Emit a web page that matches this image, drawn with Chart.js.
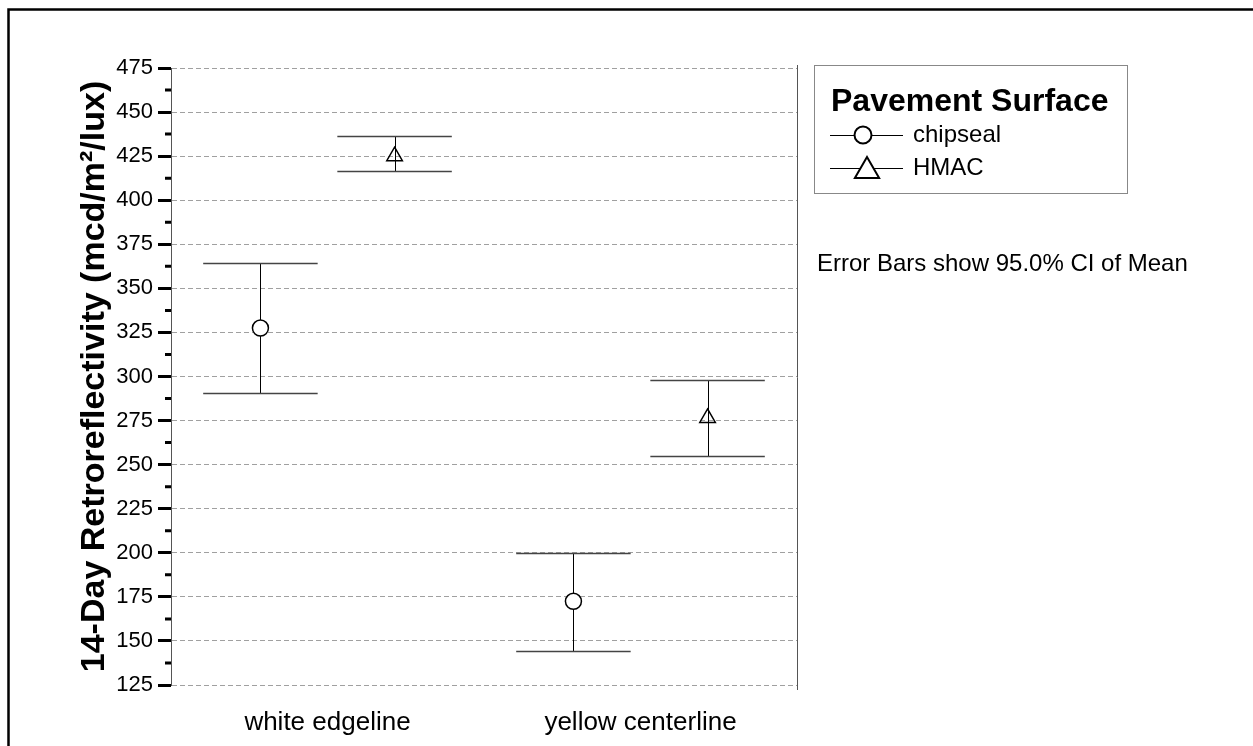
<!DOCTYPE html>
<html>
<head>
<meta charset="utf-8">
<script src="https://cdn.jsdelivr.net/npm/chart.js@4.4.1/dist/chart.umd.min.js"></script>
<style>
    body { margin: 0; background: #fff; }
    canvas { display: block; }
</style>
</head>
<body>
<canvas id="chart" width="1253" height="746"></canvas>
<script>
const groups = ['white edgeline', 'yellow centerline'];
const surfaces = ['chipseal', 'HMAC'];
const chipsealMean = [327.5, 172.5];
const chipsealLow = [290.6, 144.2];
const chipsealHigh = [364.6, 199.6];
const hmacMean = [425, 276.5];
const hmacLow = [416.3, 255.1];
const hmacHigh = [436.2, 298.2];
const yTicksMin = 125;
const yTicksMax = 475;
const yStep = 25;
const noteText = 'Error Bars show 95.0% CI of Mean';

const fontFamily = "'Liberation Sans', Arial, sans-serif";
const groupCenters = [1.75, 5.25];
const dodge = 0.75;
const capHalf = 0.64;

const surfaceStyles = [
    { pointStyle: 'circle', radius: 8, legendRadius: 8.5, fill: '#fff' },
    { pointStyle: 'triangle', radius: 9, legendRadius: 14, fill: 'rgba(0,0,0,0)' },
];
const means = [chipsealMean, hmacMean];
const lows = [chipsealLow, hmacLow];
const highs = [chipsealHigh, hmacHigh];

function xFor(surfaceIndex, groupIndex) {
    return groupCenters[groupIndex] + (surfaceIndex === 0 ? -dodge : dodge);
}

const datasets = surfaces.map((name, s) => ({
    label: name,
    data: groups.map((g, i) => ({ x: xFor(s, i), y: means[s][i] })),
    pointStyle: surfaceStyles[s].pointStyle,
    pointRadius: surfaceStyles[s].radius,
    pointHoverRadius: surfaceStyles[s].radius,
    pointBackgroundColor: surfaceStyles[s].fill,
    pointBorderColor: '#000',
    pointBorderWidth: 1.5,
    showLine: false,
}));

const errorBarsPlugin = {
    id: 'errorBars',
    beforeDatasetsDraw(chart) {
        const { ctx, scales: { x, y } } = chart;
        ctx.save();
        surfaces.forEach((name, s) => {
            groups.forEach((g, i) => {
                const cx = Math.round(x.getPixelForValue(xFor(s, i))) + 0.5;
                const yHigh = Math.round(y.getPixelForValue(highs[s][i])) + 0.5;
                const yLow = Math.round(y.getPixelForValue(lows[s][i])) + 0.5;
                const left = x.getPixelForValue(xFor(s, i) - capHalf);
                const right = x.getPixelForValue(xFor(s, i) + capHalf);
                ctx.strokeStyle = '#000';
                ctx.lineWidth = 1;
                ctx.beginPath();
                ctx.moveTo(cx, yHigh);
                ctx.lineTo(cx, yLow);
                ctx.stroke();
                ctx.strokeStyle = '#444';
                ctx.lineWidth = 1.5;
                ctx.beginPath();
                ctx.moveTo(left, yHigh);
                ctx.lineTo(right, yHigh);
                ctx.moveTo(left, yLow);
                ctx.lineTo(right, yLow);
                ctx.stroke();
            });
        });
        ctx.restore();
    }
};

const decorPlugin = {
    id: 'decor',
    afterDraw(chart) {
        const { ctx, chartArea, scales: { y } } = chart;
        ctx.save();

        // minor ticks between the labelled ones
        ctx.strokeStyle = '#000';
        ctx.lineWidth = 3;
        ctx.beginPath();
        for (let i = 0; i < y.ticks.length - 1; i++) {
            const mid = (y.ticks[i].value + y.ticks[i + 1].value) / 2;
            const py = y.getPixelForValue(mid);
            ctx.moveTo(chartArea.left - 6, py);
            ctx.lineTo(chartArea.left, py);
        }
        ctx.stroke();

        // right edge of the plot
        ctx.strokeStyle = '#555';
        ctx.lineWidth = 1;
        ctx.beginPath();
        ctx.moveTo(Math.round(chartArea.right) + 0.5, chartArea.top - 3);
        ctx.lineTo(Math.round(chartArea.right) + 0.5, chartArea.bottom + 5);
        ctx.stroke();

        // outer frame
        ctx.strokeStyle = '#000';
        ctx.lineWidth = 2.5;
        ctx.strokeRect(8.5, 9.5, 1260, 760);

        // legend box
        const lx = 814, ly = 65, lw = 313, lh = 128;
        ctx.strokeStyle = '#888';
        ctx.lineWidth = 1;
        ctx.strokeRect(lx + 0.5, ly + 0.5, lw, lh);
        ctx.fillStyle = '#000';
        ctx.font = `bold 32px ${fontFamily}`;
        ctx.textBaseline = 'alphabetic';
        ctx.textAlign = 'left';
        ctx.fillText('Pavement Surface', 831, 111);

        ctx.font = `24px ${fontFamily}`;
        ctx.textBaseline = 'middle';
        surfaces.forEach((name, s) => {
            const rowY = s === 0 ? 135 : 168;
            ctx.strokeStyle = '#000';
            ctx.lineWidth = 1;
            ctx.beginPath();
            ctx.moveTo(830, rowY + 0.5);
            ctx.lineTo(903, rowY + 0.5);
            ctx.stroke();
            ctx.fillStyle = '#fff';
            ctx.lineWidth = 2;
            const markerY = s === 0 ? rowY : rowY + 3;
            Chart.helpers.drawPoint(ctx, {
                pointStyle: surfaceStyles[s].pointStyle,
                radius: surfaceStyles[s].legendRadius,
                rotation: 0,
                borderWidth: 2,
            }, s === 0 ? 863 : 867, markerY);
            ctx.fillStyle = '#000';
            ctx.fillText(name, 913, rowY);
        });

        ctx.font = `24px ${fontFamily}`;
        ctx.fillText(noteText, 817, 264);
        ctx.restore();
    }
};

new Chart(document.getElementById('chart').getContext('2d'), {
    type: 'scatter',
    data: { datasets },
    plugins: [errorBarsPlugin, decorPlugin],
    options: {
        responsive: false,
        animation: false,
        events: [],
        layout: { padding: { left: 8, top: 68, right: 456, bottom: 0 } },
        plugins: {
            legend: { display: false },
            tooltip: { enabled: false },
        },
        scales: {
            x: {
                type: 'linear',
                min: 0,
                max: 7,
                afterFit: (scale) => { scale.height = 61; },
                afterBuildTicks: (scale) => {
                    scale.ticks = groupCenters.map((v) => ({ value: v }));
                },
                ticks: {
                    autoSkip: false,
                    maxRotation: 0,
                    padding: 22,
                    color: '#000',
                    font: { family: fontFamily, size: 26 },
                    callback: (value) => groups[groupCenters.indexOf(value)] || '',
                },
                grid: { display: false, drawTicks: false },
                border: { display: false },
            },
            y: {
                min: yTicksMin,
                max: yTicksMax,
                afterFit: (scale) => { scale.width = 163; },
                ticks: {
                    stepSize: yStep,
                    padding: 5,
                    color: '#000',
                    font: { family: fontFamily, size: 22 },
                },
                grid: {
                    color: '#a0a0a0',
                    lineWidth: 1,
                    tickColor: '#000',
                    tickWidth: 3,
                    tickLength: 13,
                },
                border: { display: true, color: '#555', width: 1, dash: [5, 3] },
                title: {
                    display: true,
                    text: '14-Day Retroreflectivity (mcd/m²/lux)',
                    color: '#000',
                    font: { family: fontFamily, size: 34, weight: 'bold' },
                    padding: { top: 66, bottom: 0 },
                },
            },
        },
    },
});
</script>
</body>
</html>
